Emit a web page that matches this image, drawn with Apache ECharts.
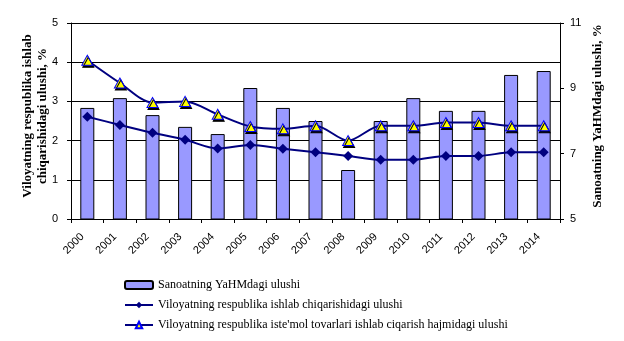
<!DOCTYPE html>
<html>
<head>
<meta charset="utf-8">
<script src="https://cdn.jsdelivr.net/npm/echarts@6/dist/echarts.min.js"></script>
<style>
  html, body { margin: 0; padding: 0; background: #fff; }
  #chart { width: 624px; height: 341px; }
</style>
</head>
<body>
<div id="chart"></div>
<script>
const years = ['2000', '2001', '2002', '2003', '2004', '2005', '2006', '2007',
  '2008', '2009', '2010', '2011', '2012', '2013', '2014'];

// bars, right axis
const industryShare = [8.4, 8.7, 8.18, 7.82, 7.6, 9.01, 8.4, 8.0, 6.5, 8.0, 8.7, 8.31, 8.31, 9.41, 9.53];
// lines, left axis
const productionShare = [2.61, 2.4, 2.2, 2.02, 1.8, 1.89, 1.79, 1.7, 1.61, 1.51, 1.51, 1.61, 1.61, 1.7, 1.7];
const consumerGoodsShare = [4.05, 3.47, 2.97, 3.0, 2.67, 2.36, 2.3, 2.38, 2.0, 2.38, 2.38, 2.46, 2.46, 2.38, 2.38];

const rightTicks = [5, 7, 9, 11];

const chart = echarts.init(document.getElementById('chart'), null, { renderer: 'canvas' });

const labelFont = { color: '#000', fontFamily: 'Liberation Sans', fontSize: 11 };
const titleFont = { color: '#000', fontFamily: 'Liberation Serif', fontSize: 13, fontWeight: 'bold', lineHeight: 15 };

chart.setOption({
  animation: false,
  backgroundColor: '#fff',
  grid: { left: 71, right: 64, top: 23, bottom: 122 },
  legend: {
    orient: 'vertical',
    left: 124,
    top: 279,
    padding: 0,
    itemWidth: 28,
    itemHeight: 8,
    itemGap: 8,
    textStyle: { color: '#000', fontFamily: 'Liberation Serif', fontSize: 12 },
    data: [
      { name: 'Sanoatning YaHMdagi ulushi', icon: 'roundRect' },
      { name: 'Viloyatning respublika ishlab chiqarishidagi ulushi' },
      { name: "Viloyatning respublika iste'mol tovarlari ishlab ciqarish hajmidagi ulushi" }
    ]
  },
  xAxis: {
    type: 'category',
    data: years,
    boundaryGap: true,
    axisLine: { lineStyle: { color: '#000', width: 1 } },
    axisTick: { show: true, length: 4, lineStyle: { color: '#000' } },
    axisLabel: { ...labelFont, rotate: 45, margin: 11, padding: [0, 7, 0, 0], interval: 0 }
  },
  yAxis: [
    {
      type: 'value',
      min: 0,
      max: 5,
      interval: 1,
      name: 'Viloyatning respublika ishlab\nchiqarishidagi ulushi, %',
      nameLocation: 'middle',
      nameRotate: 90,
      nameGap: 21,
      nameMoveOverlap: false,
      nameTextStyle: { ...titleFont, padding: [0, 0, 0, 10] },
      axisLine: { show: true, lineStyle: { color: '#000' } },
      axisTick: { show: true, length: 4, lineStyle: { color: '#000' } },
      axisLabel: { ...labelFont, margin: 13 },
      splitLine: { show: true, lineStyle: { color: '#000', width: 1 } }
    },
    {
      type: 'value',
      min: 5,
      max: 11,
      name: 'Sanoatning YaHMdagi ulushi, %',
      nameLocation: 'middle',
      nameRotate: 90,
      nameGap: 30,
      nameMoveOverlap: false,
      nameTextStyle: { ...titleFont, padding: [0, 0, 0, 10] },
      axisLine: { show: true, lineStyle: { color: '#000' } },
      axisTick: { show: true, length: 4, lineStyle: { color: '#000' }, customValues: rightTicks },
      axisLabel: { ...labelFont, margin: 10, customValues: rightTicks },
      splitLine: { show: false }
    }
  ],
  series: [
    {
      name: 'Sanoatning YaHMdagi ulushi',
      type: 'bar',
      yAxisIndex: 1,
      barWidth: 14,
      itemStyle: { color: '#9999ff', borderColor: '#000', borderWidth: 1 },
      data: industryShare
    },
    {
      name: 'Viloyatning respublika ishlab chiqarishidagi ulushi',
      type: 'line',
      yAxisIndex: 0,
      smooth: 0.3,
      symbol: 'diamond',
      symbolSize: 10,
      lineStyle: { color: '#000080', width: 2 },
      itemStyle: { color: '#000080' },
      data: productionShare
    },
    {
      name: "Viloyatning respublika iste'mol tovarlari ishlab ciqarish hajmidagi ulushi",
      type: 'line',
      yAxisIndex: 0,
      smooth: 0.3,
      symbol: 'triangle',
      symbolSize: [11, 10],
      lineStyle: { color: '#000080', width: 2 },
      itemStyle: {
        color: '#ffff00',
        borderColor: '#0000ff',
        borderWidth: 1,
        shadowColor: '#000',
        shadowOffsetX: 1,
        shadowOffsetY: 2,
        shadowBlur: 0
      },
      data: consumerGoodsShare
    }
  ]
});
</script>
</body>
</html>
